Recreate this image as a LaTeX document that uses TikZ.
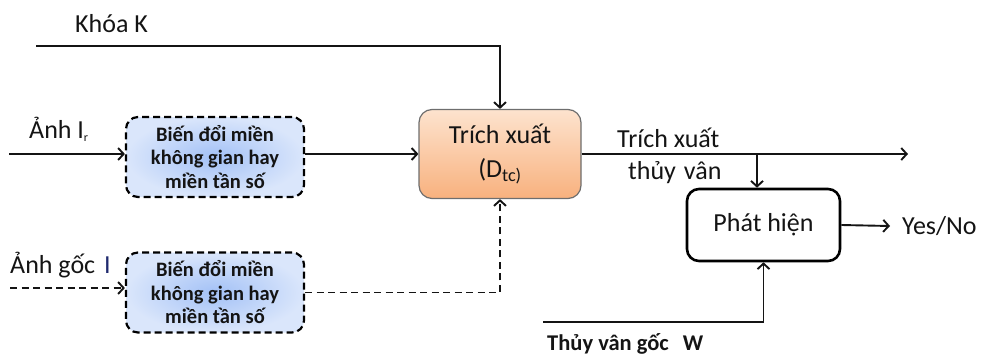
\documentclass[tikz,border=0pt]{standalone}
\usepackage{fontspec}
\setmainfont{Carlito}
\usetikzlibrary{arrows.meta,calc}

\definecolor{inkc}{HTML}{141414}
\definecolor{blueIn}{HTML}{A3C1F6}
\definecolor{blueOut}{HTML}{DAE6FB}
\definecolor{orTop}{HTML}{FDE3CE}
\definecolor{orBot}{HTML}{F8B17E}
\definecolor{orEdge}{HTML}{6E6E6E}
\definecolor{navyI}{HTML}{1F2A6E}

\tikzset{
  conn/.style={line width=1.9pt, draw=inkc, -{Straight Barb[length=5.5pt,width=12pt,line width=1.9pt]}},
  dconn/.style={conn, dash pattern=on 7pt off 4.5pt},
  transbox/.style={draw=black, line width=2.2pt, dash pattern=on 7pt off 4pt,
    rounded corners=12pt, inner color=blueIn, outer color=blueOut,
    minimum width=178pt, minimum height=80pt, align=center,
    font=\fontsize{20.5}{23.5}\selectfont\bfseries, text=inkc},
  extbox/.style={draw=orEdge, line width=1.2pt, rounded corners=13pt,
    top color=orTop, bottom color=orBot, middle color=orTop!50!orBot,
    minimum width=162pt, minimum height=89pt, align=center,
    font=\fontsize{26}{34}\selectfont, text=inkc},
  detbox/.style={draw=black, line width=2.6pt, rounded corners=12pt, fill=white,
    minimum width=153pt, minimum height=72pt, font=\fontsize{26}{30}\selectfont, text=inkc},
  lbl/.style={font=\fontsize{26}{30}\selectfont, text=inkc, inner sep=0pt},
  blbl/.style={font=\fontsize{22.5}{26}\selectfont\bfseries, text=inkc, inner sep=0pt}
}

\begin{document}
\begin{tikzpicture}[x=1pt,y=-1pt]
\useasboundingbox (0,0) rectangle (981,356);

% processing blocks
\node[transbox] (trans1) at (215,157) {Biến đổi miền\\không gian hay\\miền tần số};
\node[transbox] (trans2) at (215,292.5) {Biến đổi miền\\không gian hay\\miền tần số};
\node[extbox] (ext) at (500,154) {Trích xuất\\(D\textsubscript{tc)}};
\node[detbox] (det) at (763.5,225) {Phát hiện};

% labels
\node[lbl, anchor=base west] (keylbl) at (75,32) {Khóa K};
\node[lbl, anchor=base west] (irlbl) at (29,138) {Ảnh I\textsubscript{\fontsize{12}{12}\selectfont r}};
\node[lbl, anchor=base west] (ilbl) at (10,273) {Ảnh gốc\hspace{9pt}\textcolor{navyI}{I}};
\node[lbl, anchor=base west] (wm1) at (617,147) {Trích xuất};
\node[lbl, anchor=base west] (wm2) at (628,179) {thủy\hspace{8pt}vân};
\node[blbl, anchor=base west] (wlbl) at (547,350) {Thủy vân gốc\hspace{14pt}W};
\node[lbl, anchor=west, inner xsep=12pt] (yes) at (890,226) {Yes/No};

% free ends of connectors
\coordinate (kstart) at (36,46);
\coordinate (irin) at (9,154);
\coordinate (iin) at (10,288);
\coordinate (outend) at (908,154);
\coordinate (br) at (757,154);
\coordinate (wstart) at (543,322);

% connectors
\draw[conn] (kstart) -| (ext.north);
\draw[conn] (irin) -- (irin -| trans1.west);
\draw[conn] (trans1.east |- ext.west) -- (ext.west);
\draw[dconn] (iin) -- (iin -| trans2.west);
\draw[dconn] (trans2.east) -| (ext.south);
\draw[conn] (ext.east) -- (outend);
\draw[conn] (br) -- (br |- det.north);
\draw[conn] (wstart) -| (det.south);
\draw[conn] (det.east) -- (yes.west);
\end{tikzpicture}
\end{document}
